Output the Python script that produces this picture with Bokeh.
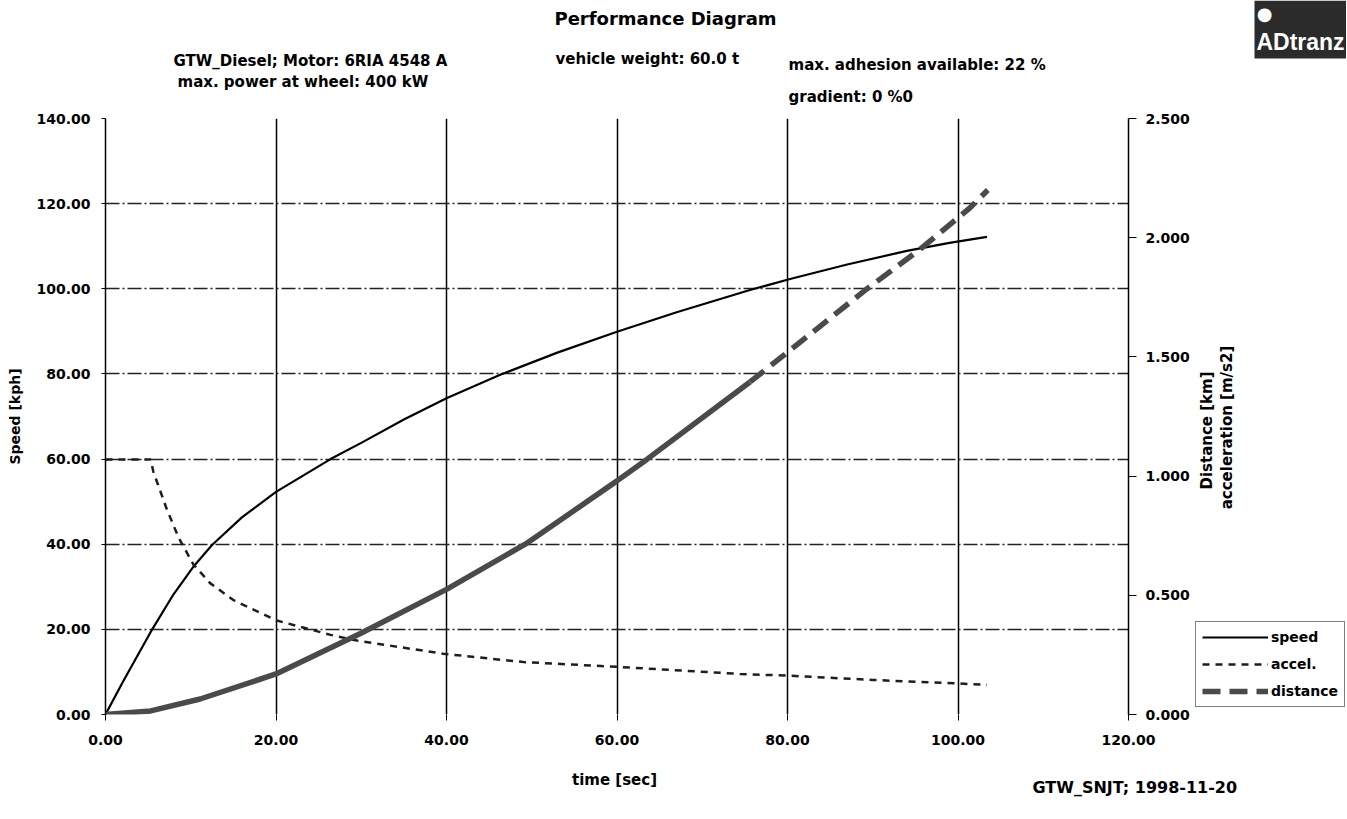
import math
from bokeh.plotting import figure
from bokeh.layouts import column, row
from bokeh.models import (Range1d, LinearAxis, FixedTicker, NumeralTickFormatter,
                          Label, Legend, LegendItem, BoxAnnotation)
from bokeh.embed import file_html
from bokeh.resources import INLINE

# ---------------- data ----------------
time_speed = [0, 2, 5.3, 8, 10.3, 12.5, 16, 20, 26.4, 30, 35, 40, 46.3, 53, 60, 67,
              75.6, 80.3, 87, 94, 99, 103.4]
speed_kph = [0, 7.5, 19.4, 28.3, 34.7, 39.8, 46.3, 52.3, 60, 63.8, 69.3, 74.3, 79.8,
             85.0, 89.9, 94.5, 99.7, 102.3, 105.7, 108.9, 110.8, 112.2]

time_accel = [0, 5.3, 5.6, 7.2, 8.6, 10.3, 12.3, 15, 20, 26.4, 29.5, 39.6, 49, 60,
              74.4, 80, 90, 100, 103.4]
accel_ms2 = [1.07, 1.07, 1.02, 0.86, 0.74, 0.63, 0.55, 0.48, 0.395, 0.334, 0.31, 0.255,
             0.22, 0.20, 0.17, 0.163, 0.145, 0.13, 0.125]

time_dist = [0, 5.3, 11.1, 20, 29.9, 40, 49.5, 60, 63.5, 75.6, 79.5, 89.3, 95.5,
             101.4, 103.5]
distance_km = [0, 0.015, 0.065, 0.17, 0.34, 0.525, 0.72, 0.98, 1.07, 1.395, 1.505,
               1.785, 1.95, 2.125, 2.2]
dist_split = 9  # index where the printed distance line turns into dashes

time_ticks = [0, 20, 40, 60, 80, 100, 120]
speed_ticks = [0, 20, 40, 60, 80, 100, 120, 140]
right_ticks = [0, 0.5, 1.0, 1.5, 2.0, 2.5]

legend_labels = ["speed", "accel.", "distance"]

FONT = "DejaVu Sans"
PAGE_W = 1346
HEAD_H = 106
MAIN_W = 1192
MAIN_H = 648
FOOT_H = 64
FRAME_TOP = 118      # page y of the chart frame top
FRAME_BOTTOM = 714   # page y of the chart frame bottom

SPEED_STYLE = dict(line_color="black", line_width=2.2)
ACCEL_STYLE = dict(line_color="#1e1e1e", line_width=2.5, line_dash="7 6")
DIST_STYLE = dict(line_color="#4a4a4a", line_width=5.5)
DIST_DASH = "18 9"


def blank(width, height, x0, y_top, y_bottom, b_top=0, b_bottom=0):
    f = figure(width=width, height=height, output_backend="svg", toolbar_location=None,
               title=None, x_range=Range1d(x0, x0 + width),
               y_range=Range1d(y_bottom, y_top),
               x_axis_type=None, y_axis_type=None, min_border_left=0,
               min_border_right=0, min_border_top=b_top, min_border_bottom=b_bottom)
    f.outline_line_color = None
    f.background_fill_color = "white"
    f.border_fill_color = "white"
    return f


def lab(fig, text, X, Y, size, align="left", angle=0.0, style="bold", color="black",
        font=FONT):
    fig.add_layout(Label(x=X, y=Y, text=text, text_font=font, text_font_size=size,
                         text_font_style=style, text_color=color, text_align=align,
                         text_baseline="middle", angle=angle))


# ---------------- header ----------------
head = blank(PAGE_W, HEAD_H, 0, 0, HEAD_H)
lab(head, "Performance Diagram", 665, 18, "18px", align="center")
lab(head, "GTW_Diesel;  Motor: 6RIA 4548 A", 173, 60, "15px")
lab(head, "max. power at wheel: 400 kW", 177, 81, "15px")
lab(head, "vehicle weight: 60.0 t", 555, 58, "15px")
lab(head, "max. adhesion available: 22 %", 788, 64, "15px")
lab(head, "gradient: 0 %0", 788, 96, "15px")
head.add_layout(BoxAnnotation(left=1254, right=PAGE_W, top=0, bottom=58,
                              fill_color="#2b2b2b", fill_alpha=1.0, line_color=None))
lab(head, "\u25cf", 1264, 13, "18px", align="center", color="white")
lab(head, "ADtranz", 1300, 41, "23px", align="center", color="white",
    font="Liberation Sans")

# ---------------- main chart ----------------
p = figure(width=MAIN_W, height=MAIN_H, output_backend="svg", toolbar_location=None,
           title=None, x_range=Range1d(0, 120), y_range=Range1d(0, 140),
           min_border_left=105, min_border_right=MAIN_W - 1128,
           min_border_top=FRAME_TOP - HEAD_H,
           min_border_bottom=HEAD_H + MAIN_H - FRAME_BOTTOM)
p.outline_line_color = None
p.background_fill_color = "white"
p.border_fill_color = "white"
p.extra_y_ranges = {"right": Range1d(0, 2.5)}

p.xgrid.ticker = FixedTicker(ticks=time_ticks[1:])
p.xgrid.grid_line_color = "black"
p.xgrid.grid_line_width = 1.5
p.ygrid.ticker = FixedTicker(ticks=speed_ticks[:-1])
p.ygrid.grid_line_color = "#222222"
p.ygrid.grid_line_width = 1.5
p.ygrid.grid_line_dash = "14 3 2 3"


def style_axis(ax, tick_out, standoff):
    ax.major_tick_out = tick_out
    ax.major_tick_in = 0
    ax.major_tick_line_color = "black"
    ax.minor_tick_line_color = None
    ax.major_label_standoff = standoff
    ax.major_label_text_font = FONT
    ax.major_label_text_font_style = "bold"
    ax.major_label_text_font_size = "14px"
    ax.major_label_text_color = "black"


xa = p.xaxis[0]
xa.ticker = FixedTicker(ticks=time_ticks)
xa.formatter = NumeralTickFormatter(format="0.00")
xa.axis_line_color = None
style_axis(xa, 6, 14)

ya = p.yaxis[0]
ya.ticker = FixedTicker(ticks=speed_ticks)
ya.formatter = NumeralTickFormatter(format="0.00")
ya.axis_line_color = "black"
ya.axis_line_width = 1.5
style_axis(ya, 4, 11)
ya.axis_label = "Speed [kph]"
ya.axis_label_standoff = 10
ya.axis_label_text_font = FONT
ya.axis_label_text_font_style = "bold"
ya.axis_label_text_font_size = "14px"
ya.axis_label_text_color = "black"

ra = LinearAxis(y_range_name="right", ticker=FixedTicker(ticks=right_ticks),
                formatter=NumeralTickFormatter(format="0.000"))
ra.axis_line_color = "black"
ra.axis_line_width = 1.5
style_axis(ra, 8, 9)
p.add_layout(ra, "right")

p.line(time_speed, speed_kph, **SPEED_STYLE)
p.line(time_accel, accel_ms2, y_range_name="right", **ACCEL_STYLE)
p.line(time_dist[:dist_split + 1], distance_km[:dist_split + 1], y_range_name="right",
       **DIST_STYLE)
p.line(time_dist[dist_split:], distance_km[dist_split:], y_range_name="right",
       line_dash=DIST_DASH, **DIST_STYLE)

# ---------------- right side: axis titles + legend ----------------
# its frame is aligned with the chart frame, so its y range spans the frame's page rows
side = blank(PAGE_W - MAIN_W, MAIN_H, MAIN_W, FRAME_TOP, FRAME_BOTTOM,
             b_top=FRAME_TOP - HEAD_H, b_bottom=HEAD_H + MAIN_H - FRAME_BOTTOM)
lab(side, "Distance [km]", 1206, 430, "15px", align="center", angle=math.pi / 2)
lab(side, "acceleration [m/s2]", 1226, 427, "15px", align="center", angle=math.pi / 2)
# legend proxies: the same series, drawn on this panel's scales (outside its view)
k_speed = side.line(time_speed, speed_kph, **SPEED_STYLE)
k_acc = side.line(time_accel, accel_ms2, **ACCEL_STYLE)
k_dist = side.line(time_dist, distance_km, line_dash=DIST_DASH, **DIST_STYLE)
legend = Legend(items=[LegendItem(label=legend_labels[0], renderers=[k_speed]),
                       LegendItem(label=legend_labels[1], renderers=[k_acc]),
                       LegendItem(label=legend_labels[2], renderers=[k_dist])],
                location=(3, FRAME_BOTTOM - 707), orientation="vertical",
                border_line_color="black", border_line_width=1.5,
                background_fill_color="white", background_fill_alpha=1.0,
                label_text_font=FONT, label_text_font_style="bold",
                label_text_color="black",
                label_text_font_size="14px", glyph_width=66, glyph_height=18,
                label_height=18, spacing=9, padding=6, margin=0, label_standoff=3)
side.add_layout(legend)

# ---------------- footer ----------------
foot = blank(PAGE_W, FOOT_H, 0, HEAD_H + MAIN_H, HEAD_H + MAIN_H + FOOT_H)
lab(foot, "time [sec]", 614, 779, "15px", align="center")
lab(foot, "GTW_SNJT; 1998-11-20", 1032, 787, "16px")

layout = column(head, row(p, side), foot)
open("out.html", "w").write(file_html(layout, INLINE))
